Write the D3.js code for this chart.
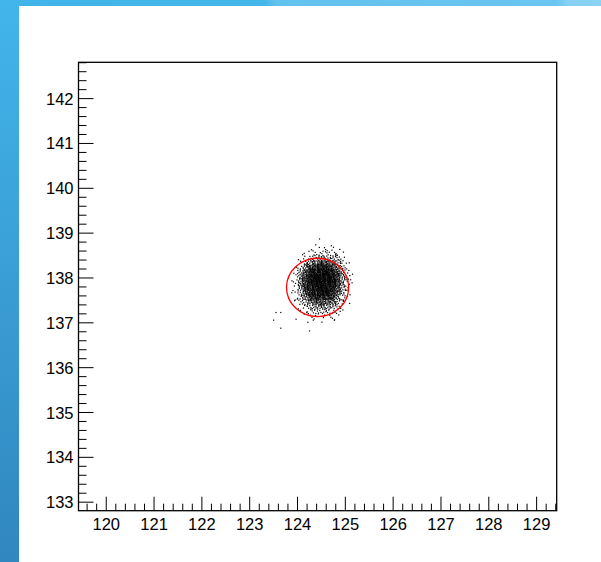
<!DOCTYPE html>
<html><head><meta charset="utf-8">
<script src="https://cdn.jsdelivr.net/npm/d3@7"></script>
<style>body{margin:0;background:#fff}svg{display:block}</style>
</head><body>
<svg id="c" width="601" height="562"></svg>
<script>
// ---- data ----
const xDomain = [119.42, 129.42];
const yDomain = [132.81, 142.81];
const xTickLabels = [120,121,122,123,124,125,126,127,128,129];
const yTickLabels = [133,134,135,136,137,138,139,140,141,142];
// 2D histogram (scatter draw): bins 0.1 x 0.1, x from 123.8, y rows from 138.9 downward
const binX0 = 123.8, binYTop = 138.9, binW = 0.1, binH = 0.1;
const counts = [
  [0,0,0,0,0,0,0,0,0,0,0,0,0,0],
  [0,0,0,0,0,1,0,0,0,1,0,0,0,0],
  [0,0,0,0,1,1,1,2,1,1,1,0,0,0],
  [0,0,0,1,1,2,3,3,4,2,2,1,0,0],
  [0,0,1,2,3,5,7,8,6,5,4,2,0,0],
  [0,0,1,3,7,11,13,14,12,10,6,3,1,0],
  [0,1,3,8,14,19,22,22,20,15,9,4,1,0],
  [0,1,5,12,20,25,28,27,25,20,13,6,2,0],
  [0,1,7,15,24,29,31,31,28,24,16,7,2,1],
  [1,2,8,17,25,30,32,32,30,25,17,8,3,0],
  [0,2,8,16,24,29,31,31,29,24,16,7,2,1],
  [0,1,7,14,22,27,29,30,27,22,14,6,2,0],
  [0,1,5,11,19,24,26,26,24,19,11,5,1,0],
  [0,1,4,9,14,18,20,20,18,14,8,3,1,0],
  [0,1,2,5,9,12,14,14,12,9,5,2,1,0],
  [0,0,1,3,5,7,8,8,7,5,3,1,0,0],
  [0,0,1,1,3,4,4,4,4,3,2,1,0,0],
  [0,0,0,1,1,2,2,2,2,1,1,0,0,0],
  [0,0,0,0,1,1,0,1,0,1,0,0,0,0]
];
// isolated entries
const outX = [124.46,123.55,123.65,123.50,123.65,124.25,124.77,123.97,124.33,123.88,123.95,125.02,125.11,125.06,124.95,124.83,124.72,124.14];
const outY = [138.87,137.23,137.23,137.06,136.88,136.82,137.06,137.08,137.06,137.67,137.51,138.33,137.96,137.73,137.51,138.51,138.62,138.55];
// red circle
const circleCenter = [124.42, 137.79];
const circleRadius = 0.65;

// ---- drawing ----
const svg = d3.select('#c');
const L = 78.5, R = 556.7, T = 62.3, B = 510.7;
const x = d3.scaleLinear().domain(xDomain).range([L, R]);
const y = d3.scaleLinear().domain(yDomain).range([B, T]);

// background decoration
const defs = svg.append('defs');
const gl = defs.append('linearGradient').attr('id','gl').attr('x1',0).attr('y1',0).attr('x2',0).attr('y2',1);
gl.append('stop').attr('offset','0%').attr('stop-color','#42b5ea');
gl.append('stop').attr('offset','100%').attr('stop-color','#3187bf');
const gt = defs.append('linearGradient').attr('id','gt').attr('x1',0).attr('y1',0).attr('x2',1).attr('y2',0);
gt.append('stop').attr('offset','0%').attr('stop-color','#40b3e8');
gt.append('stop').attr('offset','44%').attr('stop-color','#44b7ea');
gt.append('stop').attr('offset','46%').attr('stop-color','#62c2ee');
gt.append('stop').attr('offset','92.5%').attr('stop-color','#6ac5ef');
gt.append('stop').attr('offset','94.5%').attr('stop-color','#86d0f3');
gt.append('stop').attr('offset','100%').attr('stop-color','#8ad2f3');
svg.append('rect').attr('x',0).attr('y',0).attr('width',601).attr('height',6).attr('fill','url(#gt)');
svg.append('rect').attr('x',0).attr('y',0).attr('width',19).attr('height',562).attr('fill','url(#gl)');

// scatter dots (deterministic layout inside each bin)
const g1 = 0.7548776662, g2 = 0.5698402910;
const dots = [];
counts.forEach((row, ri) => {
  row.forEach((n, ci) => {
    const x0 = binX0 + ci*binW, y1 = binYTop - ri*binH;
    const off = ((ri*14 + ci) * 0.318) % 1;
    for (let k = 0; k < n; k++) {
      const fx = (off + (k+1)*g1) % 1, fy = (off*0.77 + (k+1)*g2) % 1;
      dots.push([x0 + fx*binW, y1 - fy*binH]);
    }
  });
});
outX.forEach((v,i) => dots.push([v, outY[i]]));
svg.append('g').selectAll('rect').data(dots).join('rect')
  .attr('x', d => x(d[0]) - 0.6).attr('y', d => y(d[1]) - 0.6)
  .attr('width', 1.2).attr('height', 1.2).attr('fill', '#000');

// circle
const rx = x(circleCenter[0] + circleRadius) - x(circleCenter[0]);
const ry = y(circleCenter[1]) - y(circleCenter[1] + circleRadius);
svg.append('ellipse').attr('cx', x(circleCenter[0])).attr('cy', y(circleCenter[1]))
  .attr('rx', rx).attr('ry', ry).attr('fill','none').attr('stroke','#ff0000').attr('stroke-width',1.3);

// frame
svg.append('rect').attr('x',L).attr('y',T).attr('width',R-L).attr('height',B-T)
  .attr('fill','none').attr('stroke','#000').attr('stroke-width',1.3);

// x axis ticks
const xMinor = d3.range(Math.round(xDomain[0]*5)+1, xDomain[1]*5).map(v => v/5).filter(v => v>xDomain[0] && v<xDomain[1]);
const xa = svg.append('g');
xa.selectAll('line.mn').data(xMinor).join('line')
  .attr('x1', d => x(d)).attr('x2', d => x(d))
  .attr('y1', B).attr('y2', d => B - (Math.abs(d - Math.round(d)) < 1e-6 ? 14 : 7))
  .attr('stroke','#000').attr('stroke-width',1);
xa.selectAll('text').data(xTickLabels).join('text')
  .attr('x', d => x(d)).attr('y', 529.5).attr('text-anchor','middle')
  .attr('font-family','Liberation Sans, Arial, sans-serif').attr('font-size',16.5).attr('fill','#000')
  .text(d => d);

// y axis ticks
const yMinor = d3.range(Math.round(yDomain[0]*5)+1, yDomain[1]*5).map(v => v/5).filter(v => v>yDomain[0] && v<yDomain[1]);
const ya = svg.append('g');
ya.selectAll('line').data(yMinor).join('line')
  .attr('y1', d => y(d)).attr('y2', d => y(d))
  .attr('x1', L).attr('x2', d => L + (Math.abs(d - Math.round(d)) < 1e-6 ? 15 : 8))
  .attr('stroke','#000').attr('stroke-width',1);
ya.selectAll('text').data(yTickLabels).join('text')
  .attr('x', 73.5).attr('y', d => y(d) + 6).attr('text-anchor','end')
  .attr('font-family','Liberation Sans, Arial, sans-serif').attr('font-size',16.5).attr('fill','#000')
  .text(d => d);
</script>
</body></html>
